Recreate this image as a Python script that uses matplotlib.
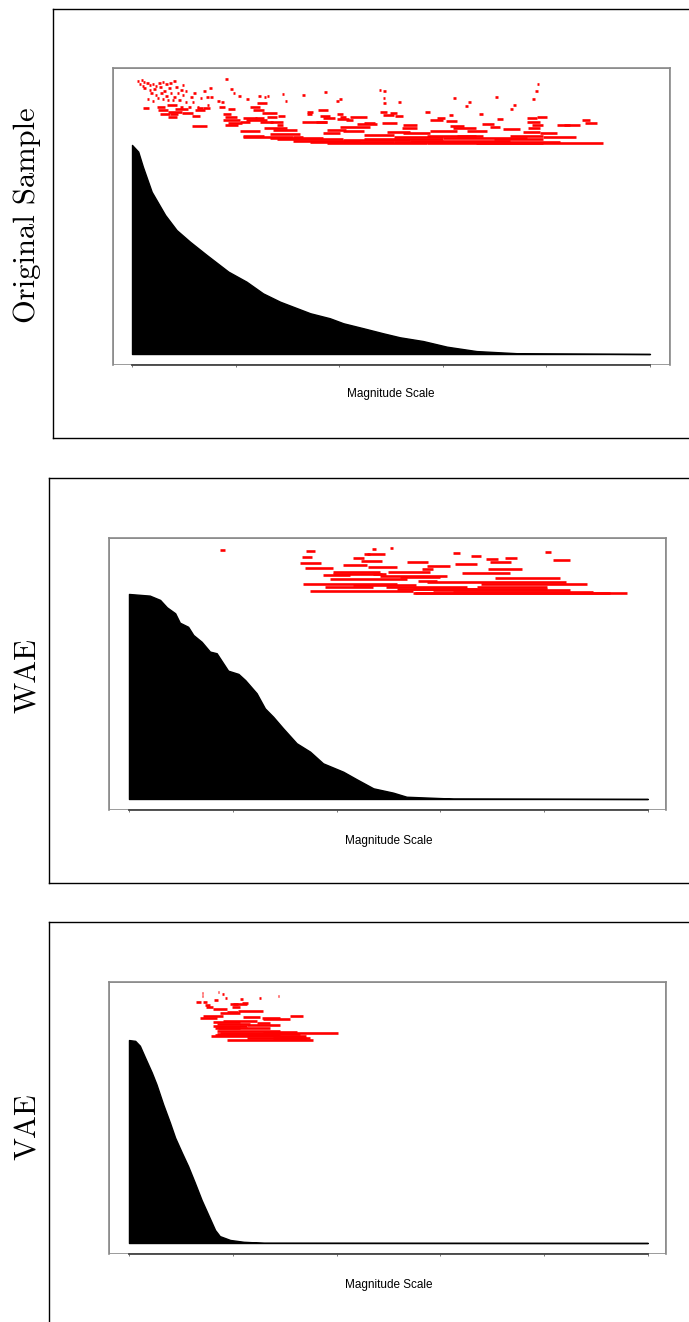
import matplotlib
matplotlib.use("Agg")
import matplotlib.pyplot as plt
from matplotlib.patches import Rectangle

# sorted magnitudes, normalised so that the largest one is 100
orig_x = [0, 1.2, 2.1, 3.8, 6.4, 8.6, 11.2, 14.4, 18.6, 22.1, 25.3, 28.6, 34.4, 38.2,
          40.8, 44.7, 48.5, 51.7, 56.2, 60.8, 66.5, 74.9, 100]
orig_mag = [100, 96.8, 89.6, 77.6, 66.5, 59.3, 53.7, 47.4, 39.4, 34.6, 29.0, 25.0, 19.5, 17.1,
            14.7, 12.3, 9.9, 8.0, 6.2, 3.5, 1.4, 0.3, 0]

wae_x = [0, 4.0, 6.0, 7.3, 8.9, 9.8, 11.4, 12.4, 14.0, 15.6, 16.9, 19.1, 21.1, 22.4, 24.6,
         26.2, 27.8, 29.7, 32.3, 34.9, 37.4, 41.3, 43.9, 47.1, 50.9, 53.5, 62.5, 100]
wae_mag = [100, 99.2, 97.1, 93.5, 90.6, 86.0, 84.0, 80.0, 76.7, 71.9, 71.1, 62.6, 61.0, 58.0, 51.6,
           44.2, 40.1, 34.5, 27.2, 23.1, 17.4, 13.3, 9.6, 5.2, 3.1, 1.1, 0.2, 0]

vae_x = [0, 1.2, 2.1, 3.1, 4.4, 5.3, 6.6, 7.9, 8.9, 10.2, 11.4, 12.7, 14.0, 15.3, 16.6,
         17.5, 19.5, 22.1, 26.0, 100]
vae_mag = [100, 99.6, 97.2, 91.4, 84.0, 78.2, 68.3, 59.3, 51.9, 44.5, 37.9, 29.7, 21.2, 13.8, 6.4,
           3.4, 1.5, 0.6, 0.1, 0]

# barcode intervals: (start, end, level)
orig_bars = [
    (0.9, 1.4, 130.8), (1.7, 2.2, 131.1), (2.1, 2.6, 130.1), (1.3, 1.8, 129.2), (1.9, 2.4, 128.2),
    (2.7, 3.2, 129.5), (3.2, 3.7, 128.7), (3.8, 4.3, 129.2), (4.4, 4.9, 128.2), (5.1, 5.6, 129.5),
    (5.7, 6.2, 130.1), (6.4, 6.9, 129.2), (7.2, 7.7, 129.8), (8.0, 8.5, 130.8), (2.2, 2.7, 127.1),
    (3.2, 3.7, 126.3), (4.1, 4.6, 126.6), (5.3, 5.8, 127.6), (6.0, 6.5, 126.0), (7.0, 7.5, 127.1),
    (8.3, 8.8, 127.9), (9.6, 10.1, 128.7), (9.3, 9.8, 126.3), (3.5, 4.0, 124.7), (4.4, 4.9, 123.9),
    (5.4, 5.9, 124.7), (6.4, 6.9, 123.4), (7.3, 7.8, 124.7), (8.0, 8.5, 123.1), (8.6, 9.1, 125.0),
    (9.6, 10.1, 123.9), (10.2, 10.7, 125.6), (11.2, 11.7, 123.1), (13.8, 14.3, 126.0),
    (14.9, 15.4, 127.1), (18.0, 18.5, 131.4), (13.1, 13.6, 122.3), (11.5, 12.0, 120.7),
    (10.2, 10.7, 120.7), (8.9, 9.4, 121.5), (7.7, 8.2, 121.5), (6.7, 7.2, 121.5), (5.7, 6.2, 121.8),
    (4.8, 5.3, 122.3), (3.8, 4.3, 121.2), (2.8, 3.3, 121.8), (11.8, 12.3, 124.7), (14.3, 14.8, 123.1),
    (10.9, 11.4, 118.3), (9.3, 9.8, 118.3), (14.4, 14.9, 119.1), (12.5, 13.0, 118.3),
    (18.9, 19.4, 126.6), (19.4, 19.9, 124.7), (20.5, 21.0, 123.4), (22.1, 22.6, 121.8),
    (24.4, 24.9, 123.4), (25.4, 25.9, 123.1), (26.0, 26.5, 123.4), (28.9, 29.4, 124.4),
    (29.5, 30.0, 121.2), (32.9, 33.4, 123.9), (37.1, 37.6, 125.4), (47.6, 48.1, 126.3),
    (48.5, 49.0, 125.8), (48.4, 48.9, 122.3), (48.5, 49.0, 119.9), (51.4, 51.9, 120.3),
    (62.0, 62.5, 122.6), (70.1, 70.6, 123.1), (78.1, 78.6, 129.2), (77.8, 78.3, 125.6),
    (77.3, 77.8, 121.8), (73.6, 74.1, 119.1), (73.0, 73.5, 117.1), (64.9, 65.4, 120.3),
    (64.3, 64.8, 118.7), (40.0, 40.5, 122.2), (39.4, 39.9, 121.2), (17.2, 17.7, 120.7),
    (16.5, 17.0, 121.2), (15.1, 15.6, 122.9),
    (2.2, 3.2, 117.5), (4.8, 6.4, 118.3), (5.1, 7.0, 116.7), (6.7, 8.6, 119.1), (7.0, 9.6, 115.9),
    (8.3, 10.9, 117.1), (7.3, 8.9, 114.8), (5.4, 7.3, 114.8), (7.0, 8.6, 113.6), (9.6, 11.8, 115.2),
    (11.5, 13.1, 113.9), (12.2, 14.1, 116.7), (12.5, 13.8, 117.9), (13.8, 15.1, 117.5),
    (11.5, 14.4, 109.1), (16.7, 18.0, 118.3), (17.6, 19.2, 114.8), (18.6, 19.9, 117.1),
    (18.0, 20.2, 113.6), (17.6, 20.8, 112.0), (18.6, 21.2, 110.4), (18.0, 20.5, 109.6),
    (21.5, 24.1, 112.8), (20.8, 22.8, 111.2), (22.8, 24.7, 118.3), (23.4, 25.4, 116.7),
    (24.1, 26.0, 119.9), (22.1, 26.0, 112.0), (24.7, 27.3, 111.2), (25.0, 27.9, 115.2),
    (26.0, 27.9, 113.6), (26.6, 29.2, 111.2), (28.2, 29.5, 113.9), (27.9, 29.2, 109.6),
    (23.7, 25.4, 112.8), (20.8, 24.7, 106.9), (25.4, 29.9, 108.0), (27.3, 31.8, 107.2),
    (21.5, 25.4, 104.3), (26.6, 32.4, 105.3), (31.1, 33.1, 104.0), (33.7, 35.0, 115.9),
    (33.7, 34.7, 114.7), (36.0, 37.9, 116.7), (36.3, 38.2, 113.9), (36.9, 39.2, 112.8),
    (35.6, 37.6, 111.2), (32.8, 37.6, 110.8), (39.5, 40.8, 114.8), (40.2, 41.4, 113.6),
    (39.5, 41.8, 112.3), (42.1, 45.3, 113.2), (41.4, 42.7, 112.0), (44.7, 46.9, 110.7),
    (43.4, 47.2, 110.0), (47.9, 49.2, 115.9), (48.5, 50.5, 114.4), (48.2, 51.1, 110.4),
    (49.8, 51.1, 115.5), (50.8, 52.4, 113.9), (52.4, 55.0, 109.4), (52.1, 55.0, 108.3),
    (37.6, 41.4, 107.2), (40.2, 45.9, 108.8), (36.9, 40.2, 105.6), (40.8, 44.7, 106.9),
    (44.7, 50.5, 104.8), (49.2, 53.7, 106.4), (52.4, 57.5, 105.6), (56.6, 57.5, 115.9),
    (57.5, 60.1, 112.0), (58.8, 60.4, 112.8), (61.1, 62.0, 114.4), (60.7, 62.7, 111.5),
    (61.4, 64.0, 109.1), (57.5, 62.7, 106.9), (62.0, 66.5, 108.0), (62.7, 67.8, 104.3),
    (64.6, 68.5, 106.9), (66.9, 67.8, 114.7), (67.5, 69.8, 110.0), (70.4, 71.7, 112.3),
    (69.1, 71.0, 108.8), (71.7, 74.9, 107.5), (76.2, 78.1, 112.8), (78.1, 80.1, 113.6),
    (76.2, 78.8, 111.2), (77.2, 79.4, 109.6), (75.5, 78.8, 106.4), (76.5, 78.8, 108.0),
    (78.8, 82.0, 105.9), (82.0, 84.6, 109.6), (83.3, 86.5, 109.6), (86.8, 88.4, 112.0),
    (87.5, 89.7, 110.7), (79.4, 85.8, 103.7), (73.0, 79.4, 104.3),
    (21.5, 31.1, 104.0), (26.6, 36.9, 103.2), (27.9, 40.8, 102.7), (31.1, 44.0, 102.1),
    (34.4, 50.5, 101.6), (37.6, 56.9, 101.1), (40.8, 53.7, 102.4), (44.7, 60.1, 102.7),
    (50.5, 66.5, 101.6), (53.7, 73.0, 102.1), (56.9, 79.4, 101.1), (60.1, 82.6, 101.6),
    (66.5, 91.0, 100.8), (60.1, 76.2, 103.2), (50.5, 60.1, 103.7), (69.8, 79.4, 102.7),
    (56.9, 66.5, 104.3),
]

wae_bars = [
    (17.5, 18.5, 121.5), (34.2, 35.8, 121.0), (46.9, 47.7, 121.8), (50.4, 50.8, 122.3),
    (33.3, 35.2, 118.2), (45.2, 46.4, 119.5), (45.8, 49.3, 119.3), (43.2, 45.2, 117.7),
    (44.8, 48.7, 116.1), (32.9, 37.1, 115.0), (41.3, 45.8, 114.3), (33.9, 39.4, 112.8),
    (46.1, 51.6, 113.3), (53.5, 57.7, 115.8), (57.4, 61.9, 113.8), (56.4, 58.6, 112.0),
    (62.5, 63.8, 120.2), (66.0, 67.9, 118.7), (68.9, 71.2, 116.9), (72.4, 74.7, 117.4),
    (69.6, 73.7, 115.4), (62.8, 67.0, 114.8), (69.2, 75.7, 112.0), (80.2, 81.4, 120.5),
    (81.8, 85.0, 116.6), (50.0, 58.0, 110.9), (39.4, 48.4, 110.7), (39.4, 48.7, 109.9),
    (47.1, 49.6, 109.6), (37.4, 42.6, 109.4), (48.4, 61.2, 108.9), (38.7, 53.5, 107.2),
    (52.2, 59.9, 108.5), (55.7, 59.3, 106.5), (64.1, 73.4, 110.4), (70.5, 83.0, 107.6),
    (57.4, 84.3, 106.0), (67.9, 88.2, 104.7), (33.6, 51.6, 104.9), (43.2, 55.4, 104.2),
    (37.8, 47.1, 103.3), (49.6, 65.1, 103.6), (54.8, 80.5, 102.4), (34.9, 54.8, 101.5),
    (58.6, 85.0, 102.0), (55.1, 92.7, 100.3), (54.8, 95.9, 100.7), (62.5, 89.5, 101.1),
    (51.6, 67.0, 102.3), (67.0, 80.5, 103.3),
]

vae_bars = [
    (14.0, 14.3, 123.0), (14.0, 14.3, 121.8), (17.1, 17.4, 123.5), (18.0, 18.3, 122.5),
    (18.5, 18.9, 120.5), (21.4, 22.0, 120.2), (25.1, 25.4, 120.9), (28.8, 29.0, 121.8),
    (16.4, 17.2, 119.7), (12.9, 13.8, 118.9), (14.2, 15.0, 118.9), (14.6, 15.6, 117.2),
    (14.8, 16.2, 116.4), (16.2, 18.8, 115.3), (19.5, 21.1, 117.6), (19.8, 21.4, 116.3),
    (20.1, 22.7, 117.6), (21.7, 23.0, 118.1), (18.8, 21.1, 114.0), (21.1, 25.9, 114.3),
    (17.5, 21.4, 113.3), (13.7, 16.9, 110.7), (14.3, 18.2, 111.8), (16.2, 21.4, 109.0),
    (16.9, 23.3, 108.0), (18.2, 24.6, 109.4), (22.0, 25.2, 111.5), (25.6, 29.1, 111.0),
    (25.9, 31.0, 110.3), (31.0, 33.6, 111.7), (16.2, 22.7, 107.1), (17.2, 27.2, 106.1),
    (16.6, 21.4, 105.7), (22.7, 29.1, 107.4), (24.6, 27.2, 108.5), (16.9, 29.1, 104.4),
    (17.5, 31.7, 103.4), (31.7, 40.3, 103.4), (15.9, 34.2, 101.8), (16.9, 32.9, 102.8),
    (18.8, 35.5, 100.0), (22.7, 34.9, 100.8), (16.6, 29.1, 102.5), (25.9, 32.3, 104.1),
    (27.8, 34.2, 101.1),
]

row_labels = ["Original Sample", "WAE", "VAE"]
x_label = "Magnitude Scale"
ticks = [0, 20, 40, 60, 80, 100]

W, H = 689, 1322
fig = plt.figure(figsize=(W / 100, H / 100), dpi=100)


def frac(left, top, right, bottom):
    # pixel box -> figure fraction rect
    return [left / W, 1 - bottom / H, (right - left) / W, (bottom - top) / H]


def panel(outer, inner, xlim, ylim, label, label_pos, xs, mags, bars, xlab_y):
    box = fig.add_axes(frac(*outer))
    box.set_xticks([])
    box.set_yticks([])
    for s in box.spines.values():
        s.set_color("black")
        s.set_linewidth(1.0)

    ax = fig.add_axes(frac(*inner))
    ax.set_xlim(*xlim)
    ax.set_ylim(*ylim)
    for name in ["top", "left", "right"]:
        ax.spines[name].set_color("#8a8a8a")
        ax.spines[name].set_linewidth(1.2)
    ax.add_patch(Rectangle((0, 0), 1, 1, transform=ax.transAxes, fill=False,
                           edgecolor="#8a8a8a", linewidth=1.2, zorder=0))
    ax.spines["bottom"].set_bounds(0, 100)
    ax.spines["bottom"].set_color("#444444")
    ax.spines["bottom"].set_linewidth(1.3)
    ax.set_xticks(ticks)
    ax.set_xticklabels([])
    ax.tick_params(axis="x", length=1.5, width=0.7, color="#777777")
    ax.set_yticks([])

    ax.fill_between(xs, mags, 0, color="black", linewidth=1.0)
    starts = [b[0] for b in bars]
    ends = [b[1] for b in bars]
    levels = [b[2] for b in bars]
    ax.hlines(levels, starts, ends, colors="red", linewidth=1.9)

    ax.text(50, xlab_y, x_label, transform=ax.get_xaxis_transform(),
            ha="center", va="center", fontsize=8.5, family="Liberation Sans")
    fig.text(label_pos[0] / W, 1 - label_pos[1] / H, label, rotation=90,
             ha="center", va="center", fontsize=22, family="cmr10")


panel((53, 9, 720, 438), (113, 68, 670, 365), (-3.67, 103.86), (-5.26, 136.8),
      row_labels[0], (27, 215), orig_x, orig_mag, orig_bars, -0.098)
panel((49, 478, 720, 883), (109, 538, 666, 810), (-3.85, 103.5), (-5.37, 127.3),
      row_labels[1], (28, 676), wae_x, wae_mag, wae_bars, -0.114)
panel((49, 922, 720, 1340), (109, 982, 666, 1254), (-3.85, 103.5), (-5.42, 128.6),
      row_labels[2], (28, 1127), vae_x, vae_mag, vae_bars, -0.114)

fig.savefig("out.png", dpi=100)
plt.close(fig)
